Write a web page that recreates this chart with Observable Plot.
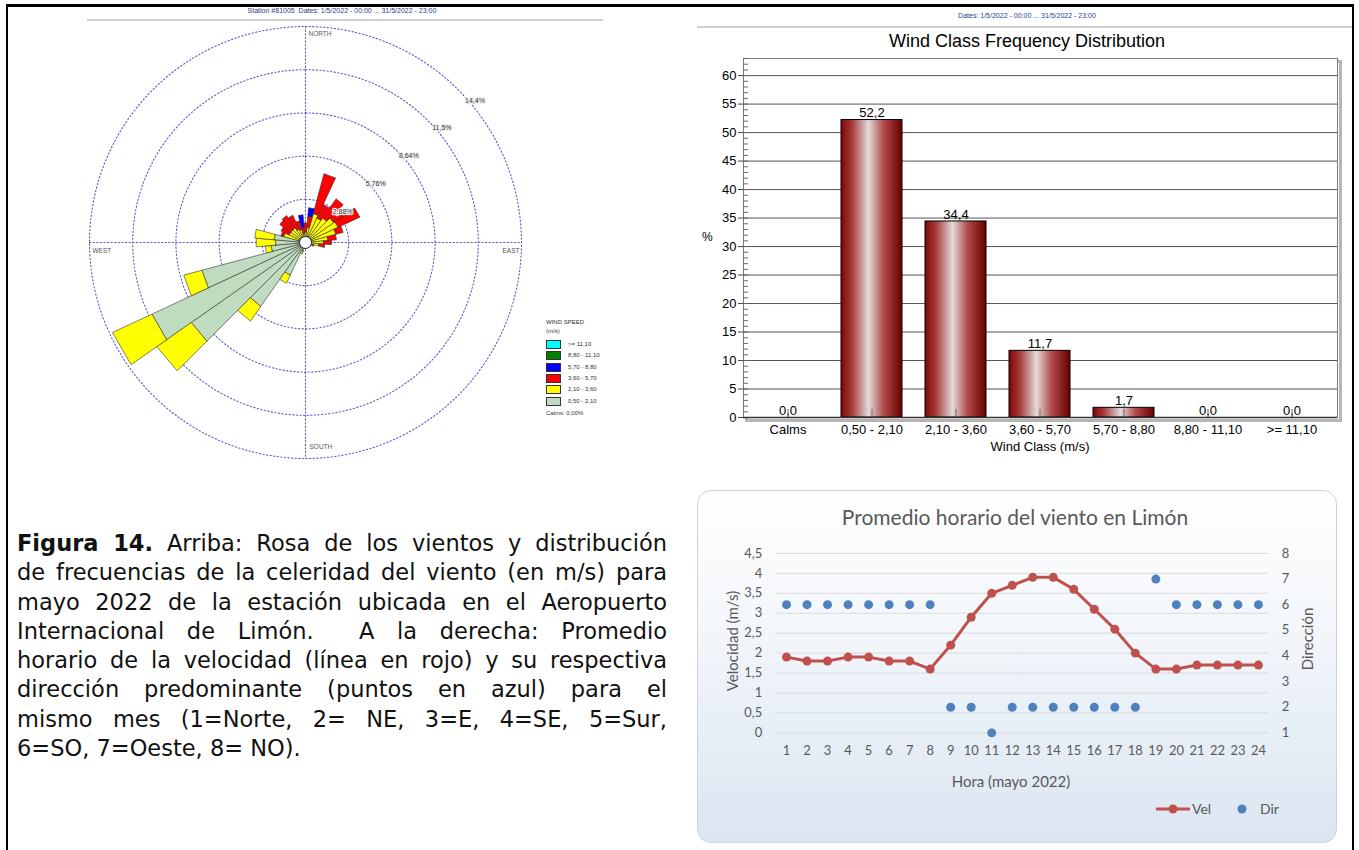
<!DOCTYPE html>
<html><head><meta charset="utf-8">
<script src="https://cdn.jsdelivr.net/npm/d3@7"></script>
<script src="https://cdn.jsdelivr.net/npm/@observablehq/plot@0.6"></script>
<style>
body{margin:0;background:#fff;width:1359px;height:850px;position:relative;overflow:hidden;font-family:Arial,"Liberation Sans",sans-serif;}
.abs{position:absolute;}
#frame{position:absolute;left:6px;top:4px;width:1344px;height:870px;border-left:2px solid #000;border-top:3px solid #000;border-right:2px solid #000;}
.hdr{position:absolute;font-size:7px;color:#2b3b8f;text-align:center;white-space:nowrap;}
.hline{position:absolute;height:2px;background:#d0d0d0;}
#legend{position:absolute;left:546px;top:318px;font-size:6px;color:#333;line-height:9px;}
#legend .row{display:flex;align-items:center;height:11.3px;}
#legend .sw{width:13px;height:7px;border:1px solid #333;margin-right:7px;}
#caption{position:absolute;left:17px;top:529px;width:650px;font-family:"DejaVu Sans",Verdana,sans-serif;font-size:22.5px;line-height:29.3px;color:#111;}
#caption div{white-space:nowrap;text-align:justify;text-align-last:justify;}
#caption div.last{text-align-last:left;}
#linebox{position:absolute;left:697px;top:490px;width:638px;height:351px;border:1px solid #cfd4da;border-radius:14px;background:linear-gradient(#ffffff 0%,#f1f5fa 45%,#dbe5f1 100%);overflow:hidden;font-family:Lato,sans-serif;color:#595959;}
</style></head><body>
<div id="frame"></div>

<div class="hdr" style="left:142px;top:7px;width:400px;">Station #81005&nbsp; Dates: 1/5/2022 - 00:00 ... 31/5/2022 - 23:00</div>
<div class="hline" style="left:87px;top:19px;width:516px;"></div>
<div id="rose" class="abs" style="left:85px;top:22px;"></div>
<div id="legend"></div>

<div class="hdr" style="left:827px;top:12px;width:400px;">Dates: 1/5/2022 - 00:00 ... 31/5/2022 - 23:00</div>
<div class="hline" style="left:697px;top:26px;width:655px;"></div>
<div class="abs" style="left:777px;top:30px;width:500px;text-align:center;font-size:18px;line-height:22px;color:#000;">Wind Class Frequency Distribution</div>
<div id="bars" class="abs" style="left:690px;top:50px;"></div>
<div class="abs" style="left:702px;top:230px;font-size:12px;color:#000;">%</div>
<div class="abs" style="left:940px;top:439px;width:200px;text-align:center;font-size:13px;color:#000;">Wind Class (m/s)</div>

<div id="caption"></div>

<div id="linebox">
  <div class="abs" style="left:0;top:13px;width:634px;text-align:center;font-size:21px;">Promedio horario del viento en Limón</div>
  <div id="lines" class="abs" style="left:0;top:40px;"></div>
  <div class="abs" style="left:34px;top:150px;width:0;height:0;"><div style="position:absolute;transform:translate(-50%,-50%) rotate(-90deg);white-space:nowrap;font-size:15px;">Velocidad (m/s)</div></div>
  <div class="abs" style="left:609px;top:148px;width:0;height:0;"><div style="position:absolute;transform:translate(-50%,-50%) rotate(-90deg);white-space:nowrap;font-size:15px;">Dirección</div></div>
  <div class="abs" style="left:0;top:281px;width:626px;text-align:center;font-size:15px;">Hora (mayo 2022)</div>
  <div id="lineLegend" class="abs" style="left:458px;top:308px;font-size:13px;"></div>
</div>

<script>
// ---------------- DATA ----------------
// Wind rose: 36 directions (degrees from north), frequency (%) per speed class
const directions = d3.range(0, 360, 10);
const rose050_210 = [0.3,0.3,0.4,0.4,0.4,0.4,0.4,0.4,0.3,0.3,0.3,0.2,0.2,0.15,0.1,0.1,0.1,0.1,0.15,0.3,0.6,2.4,5.2,9.3,11.3,7.15,2.3,2.0,2.1,0.5,0.4,0.4,0.4,0.3,0.3,0.2];
const rose210_360 = [0.4,0.7,1.6,1.4,1.6,1.9,2.0,1.7,1.2,0.9,0.6,0.3,0.2,0.1,0.05,0,0,0,0,0.1,0.2,0.6,1.2,2.8,2.9,1.25,0.4,1.3,1.3,1.0,0.8,0.8,0.8,0.7,0.6,0.4];
const rose360_570 = [0.6,0.75,2.75,1.0,1.56,0.9,1.6,0.5,0.57,0.53,0.4,0.1,0,0,0,0,0,0,0,0,0,0,0,0,0,0,0,0,0,0.2,0.6,0.9,1.0,1.0,0.6,0.4];
const rose570_880 = [0,0.58,0,0,0,0,0,0,0,0,0,0,0,0,0,0,0,0,0,0,0,0,0,0,0,0,0,0,0,0,0,0,0,0,0,0.86];
const rose880_1110 = new Array(36).fill(0);
const rose1110 = new Array(36).fill(0);
const ringValues = [2.88, 5.76, 8.64, 11.52, 14.4];
const ringLabels = ["2,88%", "5,76%", "8,64%", "11,5%", "14,4%"];
const cardinalLabels = ["NORTH", "EAST", "SOUTH", "WEST"];
const legendClasses = [">= 11,10", "8,80 - 11,10", "5,70 - 8,80", "3,60 - 5,70", "2,10 - 3,60", "0,50 - 2,10"];
const calmsText = "Calms: 0,00%";

// Wind class frequency distribution
const windClasses = ["Calms", "0,50 - 2,10", "2,10 - 3,60", "3,60 - 5,70", "5,70 - 8,80", "8,80 - 11,10", ">= 11,10"];
const classFreq = [0.0, 52.2, 34.4, 11.7, 1.7, 0.0, 0.0];

// Hourly averages
const hours = d3.range(1, 25);
const velocidad = [1.9,1.8,1.8,1.9,1.9,1.8,1.8,1.6,2.2,2.9,3.5,3.7,3.9,3.9,3.6,3.1,2.6,2.0,1.6,1.6,1.7,1.7,1.7,1.7];
const direccion = [6,6,6,6,6,6,6,6,2,2,1,2,2,2,2,2,2,2,7,6,6,6,6,6];
const velTicks = [0,0.5,1,1.5,2,2.5,3,3.5,4,4.5];
const dirTicks = [1,2,3,4,5,6,7,8];

// Caption
const captionLines = [
  "<b>Figura 14.</b> Arriba: Rosa de los vientos y distribución",
  "de frecuencias de la celeridad del viento (en m/s) para",
  "mayo 2022 de la estación ubicada en el Aeropuerto",
  "Internacional de Limón.&nbsp; A la derecha: Promedio",
  "horario de la velocidad (línea en rojo) y su respectiva",
  "dirección predominante (puntos en azul) para el",
  "mismo mes (1=Norte, 2= NE, 3=E, 4=SE, 5=Sur,",
  "6=SO, 7=Oeste, 8= NO)."
];

// ---------------- WIND ROSE ----------------
const classSeries = [rose050_210, rose210_360, rose360_570, rose570_880, rose880_1110, rose1110];
const classColors = ["#c0dcc0", "#ffff00", "#ff0000", "#0000ff", "#008000", "#00ffff"];
const rad = Math.PI / 180;
const segsByClass = classSeries.map(() => []);
directions.forEach((deg, i) => {
  let r0 = 0;
  classSeries.forEach((arr, k) => {
    const v = arr[i];
    if (!v) return;
    const r1 = r0 + v;
    const a0 = (deg - 5) * rad, a1 = (deg + 5) * rad;
    [[r0, a0], [r1, a0], [r1, a1], [r0, a1], [r0, a0]].forEach(([r, a]) =>
      segsByClass[k].push({id: i + "-" + k, x: r * Math.sin(a), y: r * Math.cos(a)}));
    r0 = r1;
  });
});
const Rmax = ringValues[ringValues.length - 1];
const H = Rmax * 220 / 216;
const ringPts = [];
ringValues.forEach((rv, j) => {
  for (let a = 0; a <= 360; a += 2) ringPts.push({ring: j, x: rv * Math.sin(a * rad), y: rv * Math.cos(a * rad)});
});
const crossPts = [
  {id: "ns", x: 0, y: Rmax}, {id: "ns", x: 0, y: -Rmax},
  {id: "ew", x: -Rmax, y: 0}, {id: "ew", x: Rmax, y: 0}
];
const labelAngle = 50 * rad;
const ringLabelData = ringValues.map((v, j) => ({x: (v + 0.35) * Math.sin(labelAngle), y: (v + 0.35) * Math.cos(labelAngle), t: ringLabels[j]}));
const dotted = {stroke: "#5b5bd0", strokeWidth: 1.1, strokeDasharray: "1.3,2.3"};

const rose = Plot.plot({
  width: 440, height: 440, margin: 0,
  x: {domain: [-H, H], axis: null},
  y: {domain: [-H, H], axis: null},
  style: {background: "transparent", fontFamily: "Arial, 'Liberation Sans', sans-serif"},
  marks: [
    Plot.line(ringPts, {x: "x", y: "y", z: "ring", ...dotted}),
    Plot.line(crossPts, {x: "x", y: "y", z: "id", ...dotted}),
    ...segsByClass.map((segs, k) => Plot.line(segs, {x: "x", y: "y", z: "id", fill: classColors[k], stroke: "#333", strokeWidth: 0.6, curve: "linear"})),
    Plot.dot([{x: 0, y: 0}], {x: "x", y: "y", r: 6, fill: "white", stroke: "#222", strokeWidth: 1}),
    Plot.text(ringLabelData, {x: "x", y: "y", text: "t", fontSize: 7, fill: "#333", stroke: "#f2f2f2", strokeWidth: 2.5, paintOrder: "stroke"}),
    Plot.text([{x: 0, y: Rmax, t: cardinalLabels[0]}], {x: "x", y: "y", text: "t", fontSize: 6.5, fill: "#555", textAnchor: "start", dx: 3, dy: 7}),
    Plot.text([{x: 0, y: -Rmax, t: cardinalLabels[2]}], {x: "x", y: "y", text: "t", fontSize: 6.5, fill: "#555", textAnchor: "start", dx: 4, dy: -12}),
    Plot.text([{x: -Rmax, y: 0, t: cardinalLabels[3]}], {x: "x", y: "y", text: "t", fontSize: 6.5, fill: "#555", textAnchor: "start", dx: 3, dy: 8}),
    Plot.text([{x: Rmax, y: 0, t: cardinalLabels[1]}], {x: "x", y: "y", text: "t", fontSize: 6.5, fill: "#555", textAnchor: "end", dx: -2, dy: 8})
  ]
});
document.getElementById("rose").appendChild(rose);

// legend
const legColors = classColors.slice().reverse();
let lg = '<div>WIND SPEED</div><div style="margin-bottom:3px">(m/s)</div>';
legendClasses.forEach((c, i) => { lg += `<div class="row"><span class="sw" style="background:${legColors[i]}"></span>${c}</div>`; });
lg += `<div style="margin-top:2px">${calmsText}</div>`;
document.getElementById("legend").innerHTML = lg;

// ---------------- BAR CHART ----------------
const commaFmt = d => d3.format(".1f")(d).replace(".", ",");
const barData = windClasses.map((c, i) => ({c, v: classFreq[i]}));
const bars = Plot.plot({
  width: 660, height: 410,
  marginLeft: 53, marginRight: 13, marginTop: 8, marginBottom: 43,
  x: {domain: windClasses, type: "band", paddingInner: 0.27, paddingOuter: 0.14, label: null},
  y: {domain: [0, 63], label: null},
  style: {background: "transparent", fontFamily: "Arial, 'Liberation Sans', sans-serif", color: "#000"},
  marks: [
    Plot.frame({stroke: "#b5b5b5", strokeWidth: 3, dx: 3, dy: 3}),
    Plot.frame({stroke: "#7a7a7a", fill: "white"}),
    Plot.gridY({ticks: d3.range(5, 61, 5), stroke: "#555", strokeOpacity: 1, strokeWidth: 1}),
    Plot.barY(barData, {x: "c", y: "v", fill: "url(#barGrad)", stroke: "#000", strokeWidth: 1}),
    Plot.text(barData, {x: "c", y: "v", text: d => commaFmt(d.v), dy: -7, fontSize: 13, fill: "#000"}),
    Plot.axisX({tickSize: -8, tickFormat: () => "", stroke: "#666"}),
    Plot.axisX({tickSize: 0, tickPadding: 7, fontSize: 13, fill: "#000"}),
    Plot.axisY({ticks: d3.range(0, 64, 1), tickSize: -5, tickFormat: () => "", stroke: "#666"}),
    Plot.axisY({ticks: d3.range(0, 61, 5), tickSize: 5, tickPadding: 2, fontSize: 13, fill: "#000", stroke: "#444"}),
    Plot.ruleY([0], {stroke: "#333", strokeWidth: 1.5})
  ]
});
const defs = d3.create("svg:defs");
const grad = defs.append("linearGradient").attr("id", "barGrad").attr("x1", "0").attr("x2", "1").attr("y1", "0").attr("y2", "0");
[["0%", "#7e0606"], ["18%", "#a53a3a"], ["45%", "#e3dada"], ["70%", "#b14a4a"], ["100%", "#6a0000"]].forEach(([o, c]) => grad.append("stop").attr("offset", o).attr("stop-color", c));
bars.insertBefore(defs.node(), bars.firstChild);
document.getElementById("bars").appendChild(bars);

// ---------------- LINE CHART ----------------
const dirToVel = d => (d - 1) * velTicks[velTicks.length - 1] / (dirTicks.length - 1);
const velToDir = v => Math.round(v * (dirTicks.length - 1) / velTicks[velTicks.length - 1] + 1);
const lineData = hours.map((h, i) => ({h, vel: velocidad[i], dir: direccion[i]}));
const lines = Plot.plot({
  width: 640, height: 270,
  marginLeft: 78, marginRight: 68, marginTop: 22, marginBottom: 68,
  x: {domain: [0.5, 24.5], label: null},
  y: {domain: [0, 4.5], label: null},
  style: {background: "transparent", fontFamily: "Lato, sans-serif", fontSize: "13px", color: "#595959"},
  marks: [
    Plot.gridY({ticks: velTicks, stroke: "#d9d9d9", strokeOpacity: 1}),
    Plot.axisY({ticks: velTicks, tickSize: 0, tickPadding: 14, tickFormat: d => String(d).replace(".", ","), fontSize: 13}),
    Plot.axisY({anchor: "right", ticks: dirTicks.map(dirToVel), tickSize: 0, tickPadding: 13, tickFormat: velToDir, fontSize: 13}),
    Plot.axisX({ticks: hours, tickSize: 0, tickPadding: 13, tickFormat: d => d, fontSize: 13}),
    Plot.line(lineData, {x: "h", y: "vel", stroke: "#c0504d", strokeWidth: 3}),
    Plot.dot(lineData, {x: "h", y: "vel", fill: "#c0504d", r: 4.5}),
    Plot.dot(lineData, {x: "h", y: d => dirToVel(d.dir), fill: "#4f81bd", r: 4.5})
  ]
});
document.getElementById("lines").appendChild(lines);
document.getElementById("lineLegend").innerHTML =
  '<svg width="140" height="20" style="position:absolute;left:0;top:0;overflow:visible">' +
  '<line x1="0" x2="34" y1="10" y2="10" stroke="#c0504d" stroke-width="3"/><circle cx="17" cy="10" r="4.5" fill="#c0504d"/>' +
  '<text x="36" y="14.5" fill="#595959" font-size="14" font-family="Lato">Vel</text>' +
  '<circle cx="86" cy="10" r="4.5" fill="#4f81bd"/>' +
  '<text x="104" y="14.5" fill="#595959" font-size="14" font-family="Lato">Dir</text></svg>';

// ---------------- CAPTION ----------------
document.getElementById("caption").innerHTML = captionLines.map((l, i) =>
  `<div class="${i === captionLines.length - 1 ? "last" : ""}">${l}</div>`).join("");
</script>
</body></html>
